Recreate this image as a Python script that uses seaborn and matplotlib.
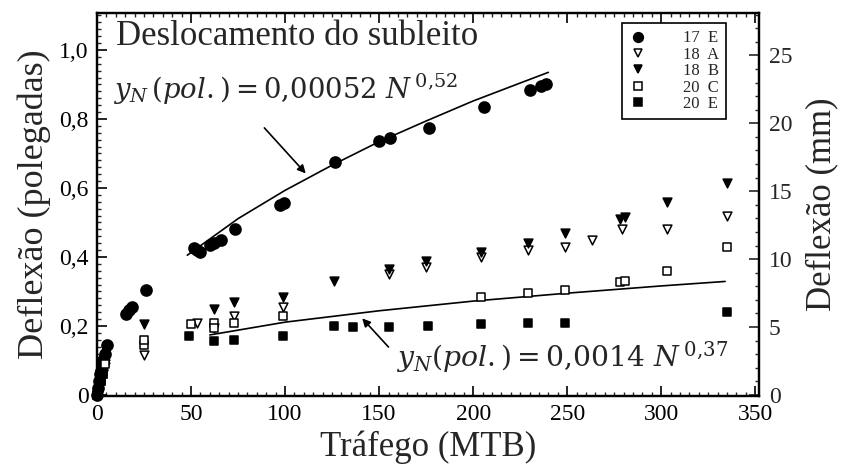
import matplotlib
matplotlib.use("Agg")
import matplotlib.pyplot as plt
from matplotlib.ticker import MultipleLocator, FixedLocator
from matplotlib.lines import Line2D
import seaborn as sns
import pandas as pd

# ---------------- data ----------------
n_17E = [0, 0.5, 1, 1.5, 2, 2.5, 3, 4, 5.5, 15.5, 17, 18.5, 26, 51.5, 53, 55, 60, 62, 66, 73.5,
         97.5, 99.5, 126.5, 150, 156, 176.5, 206, 230, 236, 238.5]
y_17E = [0.0, 0.02, 0.04, 0.06, 0.07, 0.09, 0.10, 0.12, 0.145, 0.235, 0.245, 0.255, 0.305, 0.425,
         0.42, 0.415, 0.435, 0.44, 0.45, 0.48, 0.55, 0.555, 0.675, 0.735, 0.745, 0.775, 0.835,
         0.885, 0.895, 0.9]

n_18A = [0, 1, 2, 3, 4.5, 25, 53, 62, 73, 99, 155, 175, 204, 229, 249, 263, 279, 303, 335]
y_18A = [0.0, 0.02, 0.04, 0.06, 0.08, 0.115, 0.21, 0.195, 0.23, 0.255, 0.35, 0.372, 0.40, 0.42,
         0.43, 0.45, 0.48, 0.48, 0.52]

n_18B = [0, 1.5, 3, 4.5, 25, 62, 73, 99, 126, 155, 175, 204, 229, 249, 278, 281, 303, 335]
y_18B = [0.0, 0.03, 0.06, 0.09, 0.205, 0.25, 0.27, 0.285, 0.33, 0.365, 0.387, 0.413, 0.44, 0.47,
         0.51, 0.515, 0.56, 0.615]

n_20C = [0, 1, 2, 3, 4.5, 25, 25, 50, 62, 62, 73, 99, 204, 229, 249, 278, 281, 303, 335]
y_20C = [0.0, 0.02, 0.04, 0.06, 0.09, 0.145, 0.16, 0.205, 0.21, 0.195, 0.21, 0.23, 0.283, 0.295,
         0.303, 0.327, 0.33, 0.36, 0.43]

n_20E = [0, 1, 2, 3, 49, 62, 73, 99, 126, 136, 155, 176, 204, 229, 249, 335]
y_20E = [0.0, 0.02, 0.04, 0.06, 0.17, 0.155, 0.16, 0.17, 0.20, 0.197, 0.197, 0.20, 0.205, 0.208,
         0.21, 0.24]

# fitted curves
fit1_n = [48, 75, 100, 125, 150, 175, 200, 225, 240]
fit1_y = [0.405, 0.511, 0.593, 0.666, 0.734, 0.794, 0.852, 0.904, 0.935]
fit2_n = [60, 100, 150, 200, 250, 300, 334]
fit2_y = [0.174, 0.211, 0.244, 0.272, 0.295, 0.316, 0.329]

series_labels = ["17  E", "18  A", "18  B", "20  C", "20  E"]
yticks_left = [0, 0.2, 0.4, 0.6, 0.8, 1.0]
yticklabels_left = ["0", "0,2", "0,4", "0,6", "0,8", "1,0"]
xticks = [0, 50, 100, 150, 200, 250, 300, 350]
yticks_right = [0, 5, 10, 15, 20, 25]

# ---------------- style ----------------
sns.set_theme(style="ticks")
plt.rcParams["font.family"] = ["Liberation Serif", "DejaVu Serif"]
plt.rcParams["mathtext.fontset"] = "dejavuserif"

fig = plt.figure(figsize=(8.44, 4.76), dpi=100)
ax = fig.add_axes([97 / 844, 80 / 476, (759 - 97) / 844, (396 - 13) / 476])

styles = [
    (n_17E, y_17E, "o", "black", 64),
    (n_18A, y_18A, "v", "white", 40),
    (n_18B, y_18B, "v", "black", 40),
    (n_20C, y_20C, "s", "white", 34),
    (n_20E, y_20E, "s", "black", 34),
]
handles = []
for (nn, yy, mk, fc, s), lab in zip(styles, series_labels):
    df = pd.DataFrame({"N": nn, "y": yy})
    sns.scatterplot(data=df, x="N", y="y", marker=mk, s=s, color=fc, edgecolor="black",
                    linewidth=1.1, ax=ax, zorder=3, clip_on=False)
    handles.append(Line2D([], [], ls="none", marker=mk, markersize=7 if mk == "o" else 6,
                          markerfacecolor=fc, markeredgecolor="black", markeredgewidth=1.1))

sns.lineplot(x=fit1_n, y=fit1_y, color="black", lw=1.2, ax=ax, zorder=2)
sns.lineplot(x=fit2_n, y=fit2_y, color="black", lw=1.2, ax=ax, zorder=2)

ax.set_xlim(0, 352)
ax.set_ylim(-0.003, 1.107)
ax.xaxis.set_major_locator(FixedLocator(xticks))
ax.xaxis.set_minor_locator(MultipleLocator(5))
ax.yaxis.set_major_locator(FixedLocator(yticks_left))
ax.set_yticklabels(yticklabels_left)
ax.yaxis.set_minor_locator(MultipleLocator(0.02))
ax.tick_params(axis="both", which="major", direction="in", length=7, width=1.2,
               labelsize=17, colors="black", top=True, pad=6)
ax.tick_params(axis="both", which="minor", direction="in", length=3, width=1.0, top=True)
ax.tick_params(axis="y", right=False, which="both")
for sp in ax.spines.values():
    sp.set_linewidth(1.6)
    sp.set_color("black")
    sp.set_visible(True)

ax.set_xlabel("Tráfego (MTB)", fontsize=25, labelpad=4)
ax.set_ylabel("Deflexão (polegadas)", fontsize=26, labelpad=6)

ax2 = ax.twinx()
lo, hi = ax.get_ylim()
ax2.set_ylim(lo * 25.4, hi * 25.4)
ax2.yaxis.set_major_locator(FixedLocator(yticks_right))
ax2.yaxis.set_minor_locator(MultipleLocator(1))
ax2.tick_params(axis="y", which="major", direction="in", length=7, width=1.2,
                labelsize=17, pad=7)
ax2.tick_params(axis="y", which="minor", direction="in", length=3, width=1.0)
ax2.set_ylabel("Deflexão (mm)", fontsize=25, labelpad=9)
for sp in ax2.spines.values():
    sp.set_linewidth(1.6)
    sp.set_color("black")

ax.text(10, 1.04, "Deslocamento do subleito", fontsize=25, va="center", ha="left")
ax.text(8.5, 0.885, r"$y_N\,(pol.) = 0{,}00052\ N^{\,0{,}52}$", fontsize=19.8,
        va="center", ha="left")
ax.text(159, 0.11, r"$y_N(pol.) = 0{,}0014\ N^{\,0{,}37}$", fontsize=20.3,
        va="center", ha="left")
ax.annotate("", xy=(112, 0.636), xytext=(88, 0.78),
            arrowprops=dict(arrowstyle="-|>", color="black", lw=1.2, mutation_scale=12))
ax.annotate("", xy=(140, 0.228), xytext=(156, 0.133),
            arrowprops=dict(arrowstyle="-|>", color="black", lw=1.2, mutation_scale=12))

leg = ax.legend(handles, series_labels, loc="upper left",
                bbox_to_anchor=(622 / 844, 1 - 23 / 476), bbox_transform=fig.transFigure,
                fontsize=12, labelspacing=0.02, handletextpad=2.2, handlelength=1.0,
                borderpad=0.45, borderaxespad=0.0, frameon=True, fancybox=False, framealpha=1)
leg.get_frame().set_edgecolor("black")
leg.get_frame().set_linewidth(1.2)
leg.set_zorder(5)

fig.savefig("out.png", dpi=100, facecolor="white")
